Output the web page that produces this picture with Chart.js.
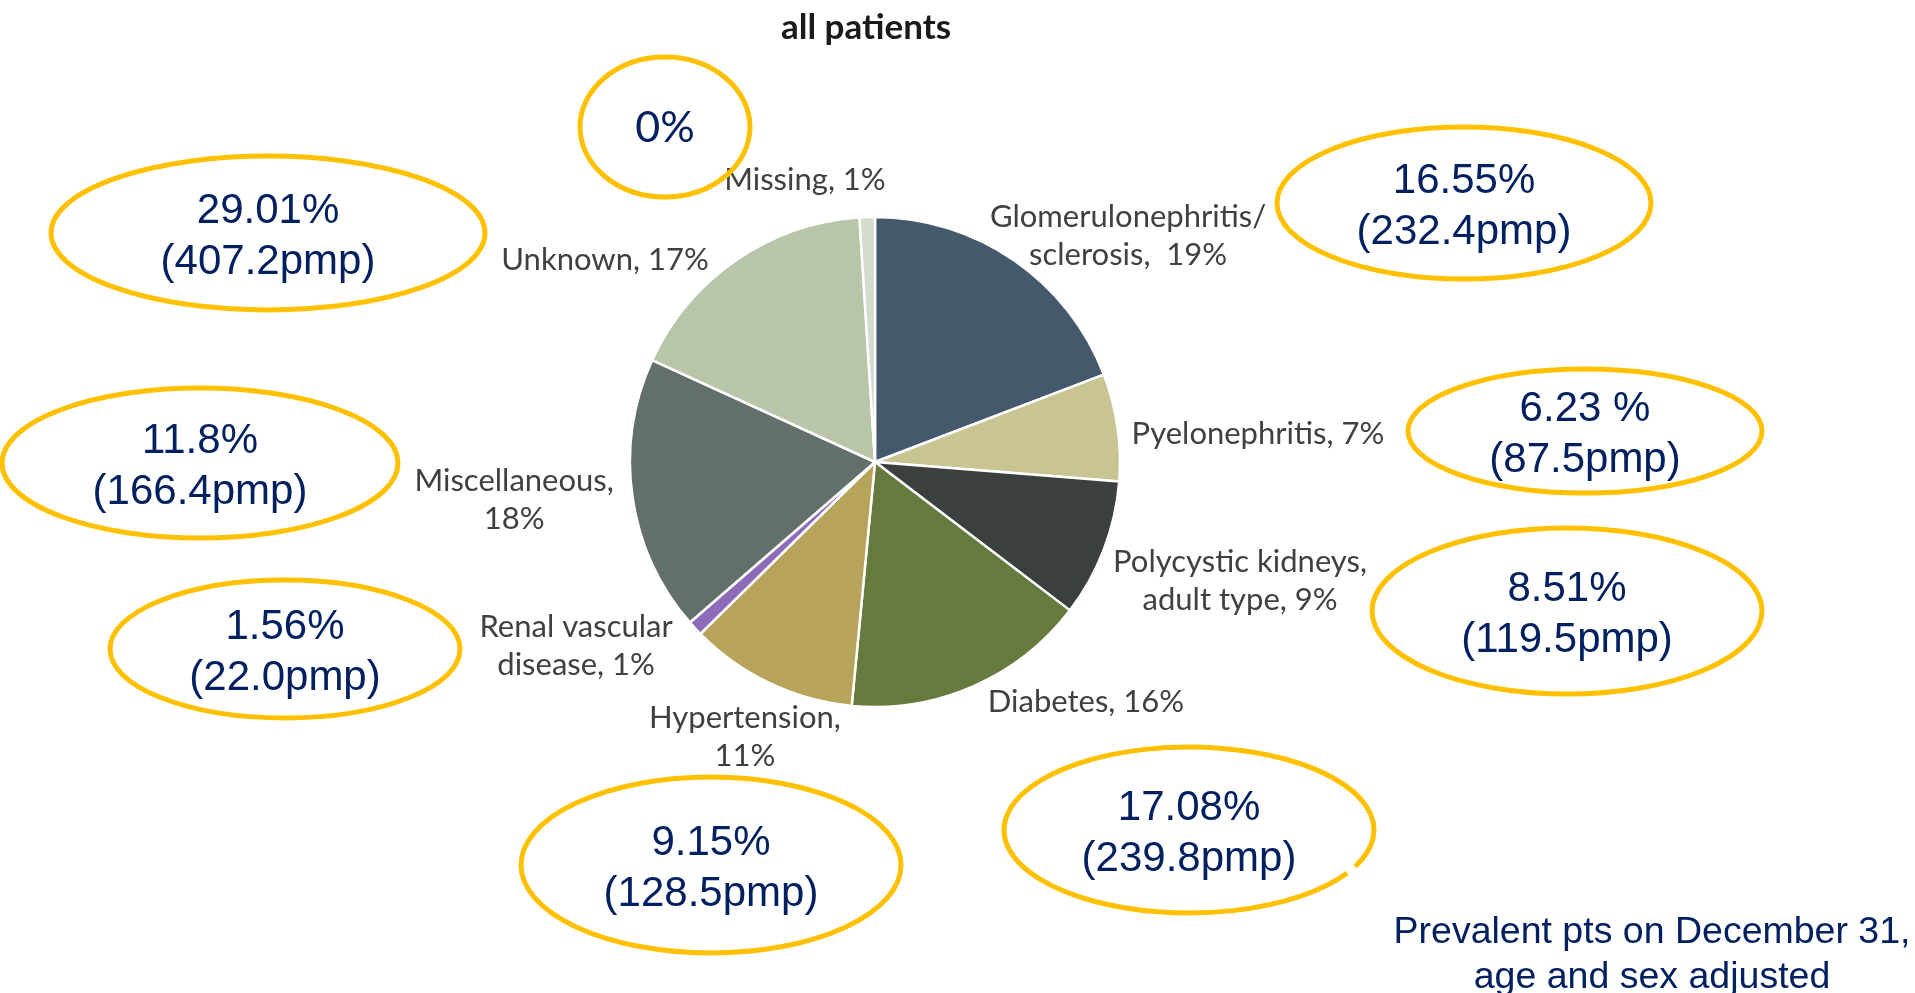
<!DOCTYPE html>
<html>
<head>
<meta charset="utf-8">
<script src="https://cdn.jsdelivr.net/npm/chart.js@4.4.1/dist/chart.umd.min.js"></script>
<style>
  html, body { margin: 0; padding: 0; background: #fff; }
  #wrap { position: relative; width: 1915px; height: 993px; }
</style>
</head>
<body>
<div id="wrap"><canvas id="causesChart"></canvas></div>
<script>
// primary renal disease, share of all patients (labels on the pie)
var categories = ['Glomerulonephritis/ sclerosis', 'Pyelonephritis', 'Polycystic kidneys, adult type',
    'Diabetes', 'Hypertension', 'Renal vascular disease', 'Miscellaneous', 'Unknown', 'Missing'];
var shares = [19, 7, 9, 16, 11, 1, 18, 17, 1];

// prevalent pts on Dec 31, age and sex adjusted (yellow rings)
var adjustedPct = ['16.55%', '6.23 %', '8.51%', '17.08%', '9.15%', '1.56%', '11.8%', '29.01%', '0%'];
var pmpRates = ['232.4', '87.5', '119.5', '239.8', '128.5', '22.0', '166.4', '407.2', null];

var titleText = 'all patients';
var footnote = ['Prevalent pts on December 31,', 'age and sex adjusted'];

var sliceColors = ['#44596b', '#c8c592', '#3b3f3d', '#667a3e', '#b8a35a', '#8e6bb8', '#63706a', '#b9c5a9', '#d3dccd'];

// label anchors, in pie radii from the pie centre; brk = words on first line
var labelLayout = [
    { dx: 1.033, dy: -0.922, brk: 1, sep: ',  ' },
    { dx: 1.563, dy: -0.114, brk: 0 },
    { dx: 1.49, dy: 0.486, brk: 2 },
    { dx: 0.861, dy: 0.98, brk: 0 },
    { dx: -0.531, dy: 1.122, brk: 1 },
    { dx: -1.22, dy: 0.751, brk: 2 },
    { dx: -1.473, dy: 0.155, brk: 1 },
    { dx: -1.102, dy: -0.824, brk: 0 },
    { dx: -0.286, dy: -1.151, brk: 0 }
];

// ring placement on the page
var ringLayout = [
    { cx: 1464, cy: 203, rx: 187, ry: 76 },
    { cx: 1585, cy: 431, rx: 177, ry: 62 },
    { cx: 1567, cy: 611, rx: 195, ry: 83 },
    { cx: 1189, cy: 830, rx: 185, ry: 83, gap: [0.455, 0.545] },
    { cx: 711, cy: 865, rx: 190, ry: 88 },
    { cx: 285, cy: 649, rx: 175, ry: 69 },
    { cx: 200, cy: 463, rx: 198, ry: 75 },
    { cx: 268, cy: 233, rx: 217, ry: 77 },
    { cx: 665, cy: 127, rx: 85, ry: 70 }
];

function labelLines(i) {
    var l = labelLayout[i];
    var text = categories[i] + (l.sep || ', ') + shares[i] + '%';
    if (!l.brk) return [text];
    var words = text.split(' ');
    return [words.slice(0, l.brk).join(' '), words.slice(l.brk).join(' ')];
}

var annotations = {
    id: 'annotations',
    afterDatasetsDraw: function (chart) {
        var ctx = chart.ctx;
        var arcs = chart.getDatasetMeta(0).data;
        var cx = arcs[0].x, cy = arcs[0].y, r = arcs[0].outerRadius;

        ctx.save();
        ctx.textAlign = 'center';
        ctx.textBaseline = 'middle';

        // slice labels
        ctx.fillStyle = '#404040';
        ctx.font = '31px Lato';
        labelLayout.forEach(function (l, i) {
            var lines = labelLines(i);
            var x = cx + l.dx * r, y = cy + l.dy * r;
            var top = y - (lines.length - 1) * 19;
            lines.forEach(function (t, k) {
                ctx.fillText(t, x, top + k * 38);
            });
        });

        // title
        ctx.fillStyle = '#1a1a1a';
        ctx.font = 'bold 35px Lato';
        ctx.fillText(titleText, 866, 28);

        // yellow rings with adjusted values
        ringLayout.forEach(function (g, i) {
            ctx.strokeStyle = '#ffc000';
            ctx.lineWidth = 5;
            ctx.beginPath();
            if (g.gap) {
                ctx.ellipse(g.cx, g.cy, g.rx, g.ry, 0, g.gap[1], g.gap[0] + Math.PI * 2);
            } else {
                ctx.ellipse(g.cx, g.cy, g.rx, g.ry, 0, 0, Math.PI * 2);
            }
            ctx.stroke();

            ctx.fillStyle = '#002060';
            if (pmpRates[i] === null) {
                ctx.font = '43px Lato';
                ctx.fillText(adjustedPct[i], g.cx, g.cy + 1);
            } else {
                ctx.font = '42px "Liberation Sans"';
                ctx.fillText(adjustedPct[i], g.cx, g.cy - 22);
                ctx.fillText('(' + pmpRates[i] + 'pmp)', g.cx, g.cy + 29);
            }
        });

        // footnote
        ctx.fillStyle = '#002060';
        ctx.font = '37.5px "Liberation Sans"';
        ctx.fillText(footnote[0], 1652, 933);
        ctx.fillText(footnote[1], 1652, 978);
        ctx.restore();
    }
};

var ctx = document.getElementById('causesChart').getContext('2d');
var chart = new Chart(ctx, {
    type: 'pie',
    data: {
        labels: categories,
        datasets: [{
            data: shares,
            backgroundColor: sliceColors,
            borderColor: '#ffffff',
            borderWidth: 2.5
        }]
    },
    options: {
        responsive: true,
        maintainAspectRatio: false,
        animation: false,
        radius: 245,
        layout: {
            padding: { left: 0, right: 165, top: 0, bottom: 69 }
        },
        plugins: {
            legend: { display: false },
            title: { display: false },
            tooltip: { enabled: false }
        }
    },
    plugins: [annotations]
});
</script>
</body>
</html>
